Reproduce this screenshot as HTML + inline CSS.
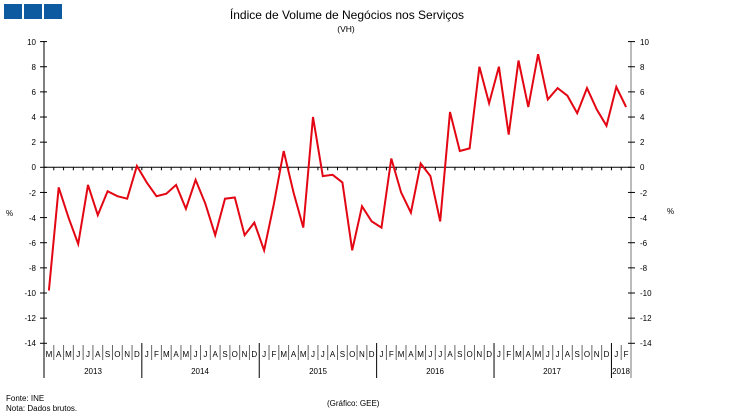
<!DOCTYPE html>
<html><head><meta charset="utf-8"><style>
html,body{margin:0;padding:0;background:#fff}
svg{display:block;font-family:"Liberation Sans",Arial,sans-serif}
</style></head><body>
<svg id="s" width="750" height="418" viewBox="0 0 750 418" xmlns="http://www.w3.org/2000/svg">
<rect x="4" y="4" width="18" height="15" fill="#0e5aa0"/>
<rect x="24" y="4" width="18" height="15" fill="#0e5aa0"/>
<rect x="44" y="4" width="18" height="15" fill="#0e5aa0"/>
<text x="347" y="19" font-size="12" text-anchor="middle" fill="#000">Índice de Volume de Negócios nos Serviços</text>
<text x="346" y="32" font-size="8.5" text-anchor="middle" fill="#000">(VH)</text>
<g font-size="8" fill="#000" text-anchor="end">
<text x="36" y="45">10</text><text x="36" y="70">8</text><text x="36" y="95">6</text><text x="36" y="120">4</text><text x="36" y="145">2</text><text x="36" y="170">0</text><text x="36" y="196">-2</text><text x="36" y="221">-4</text><text x="36" y="246">-6</text><text x="36" y="271">-8</text><text x="36" y="296">-10</text><text x="36" y="321">-12</text><text x="36" y="346">-14</text>
</g>
<g font-size="8" fill="#000" text-anchor="start">
<text x="640" y="45">10</text><text x="640" y="70">8</text><text x="640" y="95">6</text><text x="640" y="120">4</text><text x="640" y="145">2</text><text x="640" y="170">0</text><text x="640" y="196">-2</text><text x="640" y="221">-4</text><text x="640" y="246">-6</text><text x="640" y="271">-8</text><text x="640" y="296">-10</text><text x="640" y="321">-12</text><text x="640" y="346">-14</text>
</g>
<text x="6" y="216" font-size="8">%</text>
<text x="667" y="214" font-size="8">%</text>
<g id="ax" stroke="#000" stroke-width="1"></g>
<text font-size="8" text-anchor="middle" y="357" x="48.9 58.7 68.4 78.2 88.0 97.8 107.6 117.4 127.1 136.9 146.7 156.5 166.3 176.1 185.8 195.6 205.4 215.2 225.0 234.8 244.5 254.3 264.1 273.9 283.7 293.5 303.2 313.0 322.8 332.6 342.4 352.2 361.9 371.7 381.5 391.3 401.1 410.9 420.6 430.4 440.2 450.0 459.8 469.6 479.3 489.1 498.9 508.7 518.5 528.3 538.0 547.8 557.6 567.4 577.2 587.0 596.7 606.5 616.3 626.1">MAMJJASONDJFMAMJJASONDJFMAMJJASONDJFMAMJJASONDJFMAMJJASONDJF</text>
<g font-size="8" text-anchor="middle">
<text x="93" y="374">2013</text><text x="200" y="374">2014</text><text x="318" y="374">2015</text><text x="435" y="374">2016</text><text x="552" y="374">2017</text><text x="621" y="374">2018</text>
</g>
<polyline id="ln" fill="none" stroke="#e30613" stroke-width="2" stroke-linejoin="miter"/>
<text x="6" y="401" font-size="8">Fonte: INE</text>
<text x="6" y="411" font-size="8">Nota: Dados brutos.</text>
<text x="327" y="406" font-size="8">(Gráfico: GEE)</text>
</svg>
<script>
var d=[-9.8,-1.6,-4.0,-6.1,-1.4,-3.8,-1.9,-2.3,-2.5,0.1,
-1.2,-2.3,-2.1,-1.4,-3.3,-1.0,-2.9,-5.4,-2.5,-2.4,-5.4,-4.4,
-6.6,-2.9,1.3,-2.0,-4.8,4.0,-0.7,-0.6,-1.2,-6.6,-3.1,-4.3,
-4.8,0.7,-2.0,-3.6,0.3,-0.7,-4.3,4.4,1.3,1.5,8.0,5.1,
8.0,2.6,8.5,4.8,9.0,5.4,6.3,5.7,4.3,6.3,4.6,3.3,
6.4,4.8];
var L=44,R=631,st=(R-L)/60,y0=167.3,k=12.57;
function Y(v){return y0-v*k}
document.getElementById('ln').setAttribute('points',d.map(function(v,i){return (L+st*(i+.5)).toFixed(1)+','+Y(v).toFixed(1)}).join(' '));
var g='';
g+='<line x1="'+L+'" y1="41" x2="'+L+'" y2="378"/>';
g+='<line x1="'+R+'" y1="41" x2="'+R+'" y2="378" stroke="#777"/>';
g+='<line x1="'+L+'" y1="'+y0+'" x2="'+R+'" y2="'+y0+'"/>';
for(var v=10;v>=-14;v-=2){var y=Y(v);g+='<line x1="'+(L-4)+'" y1="'+y+'" x2="'+(L+3)+'" y2="'+y+'"/><line x1="'+(R-3)+'" y1="'+y+'" x2="'+(R+4)+'" y2="'+y+'"/>';}
for(var i=1;i<60;i++){var x=L+st*i;g+='<line x1="'+x+'" y1="'+y0+'" x2="'+x+'" y2="'+(y0+3)+'"/>';
var yr=(i-10)%12==0;g+='<line x1="'+x+'" y1="'+(yr?343:345)+'" x2="'+x+'" y2="'+(yr?378:360)+'" stroke="'+(yr?'#000':'#666')+'"/>';}
document.getElementById('ax').innerHTML=g;
</script>
</body></html>
